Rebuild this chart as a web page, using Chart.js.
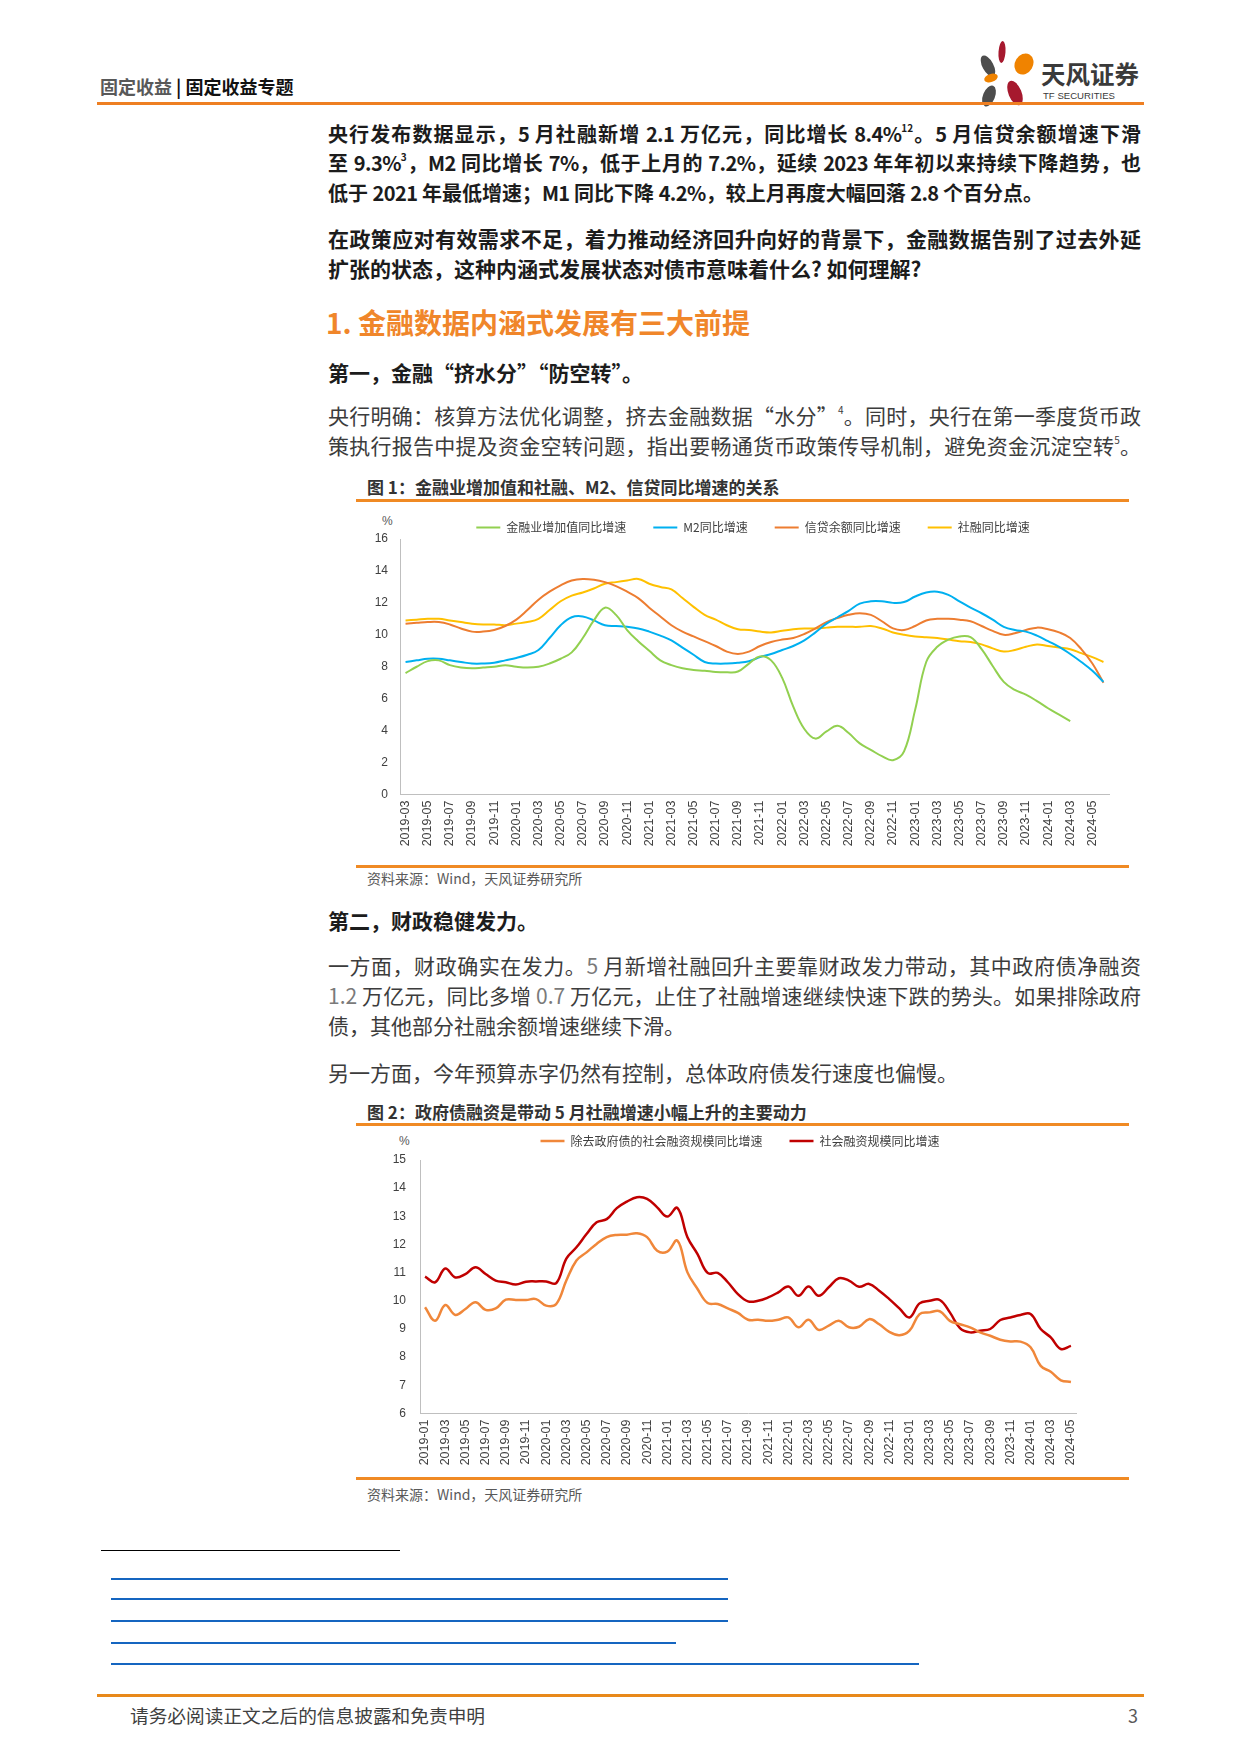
<!DOCTYPE html>
<html lang="zh-CN">
<head>
<meta charset="utf-8">
<script src="https://cdn.jsdelivr.net/npm/chart.js@4.4.1/dist/chart.umd.min.js"></script>
<style>
  html, body { margin:0; padding:0; background:#fff; }
  body { width:1241px; height:1755px; position:relative; overflow:hidden;
         font-family:"Noto Sans CJK SC","Noto Sans",sans-serif; }
  .abs { position:absolute; white-space:nowrap; }
  .ln { position:absolute; left:328px; width:813px; height:30px; line-height:30px; font-size:21px; }
  .p1 { font-size:20px; }
  .j { text-align:justify; text-align-last:justify; }
  .b { font-weight:bold; color:#1c1c1c; }
  .n { font-weight:normal; color:#3c3c3c; }
  sup { font-size:10px; line-height:0; position:relative; top:-2px; vertical-align:super; }
  .lat { color:#7a7a7a; }
  .nar { letter-spacing:-0.6px; }
  .figt { position:absolute; left:367px; font-size:17px; font-weight:bold; color:#333; line-height:20px; height:20px; }
  .src { position:absolute; left:367px; font-size:14px; color:#595959; line-height:18px; height:18px; }
  .oline { position:absolute; background:#F08A24; }
  .blue { position:absolute; height:2px; background:#1565C0; }
  .pct { position:absolute; font-size:12px; color:#595959; font-family:"Liberation Sans",Arial,sans-serif; line-height:14px; }
</style>
</head>
<body>
<!-- header -->
<div class="abs" style="left:100px;top:74px;font-size:18px;font-weight:bold;line-height:24px;">
  <span style="color:#595959">固定收益</span><span style="color:#111"> | 固定收益专题</span>
</div>
<svg class="abs" style="left:970px;top:36px;" width="180" height="76" viewBox="970 36 180 76">
  <ellipse cx="1002" cy="52" rx="3.5" ry="11" fill="#A6192E" transform="rotate(4 1002 52)"/>
  <ellipse cx="988" cy="66" rx="5.5" ry="11.5" fill="#4D4D4D" transform="rotate(-28 988 66)"/>
  <ellipse cx="1024" cy="64" rx="9" ry="11" fill="#F08300" transform="rotate(30 1024 64)"/>
  <ellipse cx="991" cy="78" rx="7" ry="4" fill="#F08300" transform="rotate(-18 991 78)"/>
  <ellipse cx="1015" cy="93" rx="6.5" ry="13" fill="#A6192E" transform="rotate(-22 1015 93)"/>
  <ellipse cx="989" cy="96" rx="6" ry="11" fill="#4D4D4D" transform="rotate(22 989 96)"/>
  <text x="1041" y="84" font-size="24.5" font-weight="bold" fill="#3a3a3a" font-family="Noto Sans CJK SC">天风证券</text>
  <text x="1043" y="99" font-size="9.6" fill="#3a3a3a" font-family="Liberation Sans, Arial">TF SECURITIES</text>
</svg>
<div class="oline" style="left:97px;top:102px;width:1047px;height:3px;background:#EE7F22;"></div>

<!-- paragraph 1 -->
<div class="ln p1 j b" style="top:119px;">央行发布数据显示，<span class="nar">5</span> 月社融新增 <span class="nar">2.1</span> 万亿元，同比增长 <span class="nar">8.4%</span><sup>12</sup>。<span class="nar">5</span> 月信贷余额增速下滑</div>
<div class="ln p1 j b" style="top:148px;">至 <span class="nar">9.3%</span><sup>3</sup>，<span class="nar">M2</span> 同比增长 <span class="nar">7%</span>，低于上月的 <span class="nar">7.2%</span>，延续 <span class="nar">2023</span> 年年初以来持续下降趋势，也</div>
<div class="ln p1 b" style="top:178px;">低于 <span class="nar">2021</span> 年最低增速；<span class="nar">M1</span> 同比下降 <span class="nar">4.2%</span>，较上月再度大幅回落 <span class="nar">2.8</span> 个百分点。</div>

<div class="ln j b" style="top:223px;">在政策应对有效需求不足，着力推动经济回升向好的背景下，金融数据告别了过去外延</div>
<div class="ln b" style="top:253px;">扩张的状态，这种内涵式发展状态对债市意味着什么? 如何理解?</div>

<div class="abs" style="left:326px;top:303px;font-size:28px;line-height:38px;font-weight:bold;color:#F0862A;">1. 金融数据内涵式发展有三大前提</div>

<div class="ln b" style="top:357px;">第一，金融“挤水分”“防空转”。</div>

<div class="ln j n" style="top:400px;">央行明确：核算方法优化调整，挤去金融数据“水分”<sup>4</sup>。同时，央行在第一季度货币政</div>
<div class="ln j n" style="top:430px;">策执行报告中提及资金空转问题，指出要畅通货币政策传导机制，避免资金沉淀空转<sup>5</sup>。</div>

<!-- figure 1 -->
<div class="figt" style="top:477px;">图 1：金融业增加值和社融、M2、信贷同比增速的关系</div>
<div class="oline" style="left:356px;top:499px;width:773px;height:2.5px;"></div>
<div class="pct" style="left:382px;top:514px;">%</div>
<div class="abs" style="left:330px;top:489.5px;width:800px;height:375px;">
  <canvas id="c1" width="800" height="375"></canvas>
</div>
<div class="oline" style="left:356px;top:865px;width:773px;height:3px;"></div>
<div class="src" style="top:869px;">资料来源：Wind，天风证券研究所</div>

<div class="ln b" style="top:905px;">第二，财政稳健发力。</div>
<div class="ln j n" style="top:950px;">一方面，财政确实在发力。<span class="lat">5</span> 月新增社融回升主要靠财政发力带动，其中政府债净融资</div>
<div class="ln j n" style="top:980px;"><span class="lat">1.2</span> 万亿元，同比多增 <span class="lat">0.7</span> 万亿元，止住了社融增速继续快速下跌的势头。如果排除政府</div>
<div class="ln n" style="top:1010px;">债，其他部分社融余额增速继续下滑。</div>
<div class="ln n" style="top:1057px;">另一方面，今年预算赤字仍然有控制，总体政府债发行速度也偏慢。</div>

<!-- figure 2 -->
<div class="figt" style="top:1102px;">图 2：政府债融资是带动 5 月社融增速小幅上升的主要动力</div>
<div class="oline" style="left:356px;top:1123px;width:773px;height:2.5px;"></div>
<div class="pct" style="left:399px;top:1134px;">%</div>
<div class="abs" style="left:340px;top:1111px;width:760px;height:364px;">
  <canvas id="c2" width="760" height="364"></canvas>
</div>
<div class="oline" style="left:356px;top:1477px;width:773px;height:3px;"></div>
<div class="src" style="top:1485px;">资料来源：Wind，天风证券研究所</div>

<!-- footnotes -->
<div class="abs" style="left:101px;top:1550px;width:299px;height:1px;background:#000;"></div>
<div class="blue" style="left:111px;top:1578px;width:617px;"></div>
<div class="blue" style="left:111px;top:1598px;width:617px;"></div>
<div class="blue" style="left:111px;top:1620px;width:617px;"></div>
<div class="blue" style="left:111px;top:1642px;width:565px;"></div>
<div class="blue" style="left:111px;top:1663px;width:808px;"></div>

<!-- footer -->
<div class="oline" style="left:97px;top:1694px;width:1047px;height:3px;background:#E8891A;"></div>
<div class="abs" style="left:130px;top:1702px;font-size:18.7px;line-height:26px;color:#404040;">请务必阅读正文之后的信息披露和免责申明</div>
<div class="abs" style="left:1128px;top:1702px;font-size:18px;line-height:26px;color:#595959;">3</div>

<script>
// ---------- Figure 1 data ----------
const months1 = ["2019-03","2019-04","2019-05","2019-06","2019-07","2019-08","2019-09","2019-10","2019-11","2019-12",
 "2020-01","2020-02","2020-03","2020-04","2020-05","2020-06","2020-07","2020-08","2020-09","2020-10","2020-11","2020-12",
 "2021-01","2021-02","2021-03","2021-04","2021-05","2021-06","2021-07","2021-08","2021-09","2021-10","2021-11","2021-12",
 "2022-01","2022-02","2022-03","2022-04","2022-05","2022-06","2022-07","2022-08","2022-09","2022-10","2022-11","2022-12",
 "2023-01","2023-02","2023-03","2023-04","2023-05","2023-06","2023-07","2023-08","2023-09","2023-10","2023-11","2023-12",
 "2024-01","2024-02","2024-03","2024-04","2024-05","2024-06"];
const finVA = [7.6,8.0,8.35,8.4,8.1,7.95,7.9,7.95,8.0,8.1,8.0,7.95,8.0,8.2,8.5,8.9,9.8,10.9,11.7,11.25,10.3,9.6,9.0,8.4,
 8.1,7.9,7.8,7.75,7.67,7.65,7.7,8.2,8.65,8.4,7.3,5.5,4.1,3.5,3.95,4.3,3.85,3.2,2.8,2.4,2.15,2.7,5.3,8.3,9.25,9.7,9.9,
 9.85,9.1,8.05,7.05,6.55,6.25,5.85,5.4,5.0,4.6];
const m2 = [8.3,8.4,8.5,8.5,8.4,8.3,8.2,8.2,8.25,8.4,8.55,8.75,9.05,9.8,10.6,11.1,11.15,10.9,10.6,10.55,10.5,10.4,10.2,9.95,
 9.65,9.2,8.75,8.3,8.2,8.2,8.25,8.35,8.6,8.8,9.05,9.3,9.65,10.15,10.7,11.1,11.5,11.95,12.1,12.1,12.0,12.05,12.4,12.65,12.7,
 12.5,12.1,11.7,11.35,10.95,10.5,10.3,10.2,9.95,9.6,9.25,8.8,8.3,7.75,7.05];
const loans = [10.7,10.75,10.8,10.8,10.65,10.4,10.2,10.2,10.3,10.55,10.95,11.55,12.2,12.7,13.1,13.4,13.5,13.45,13.3,13.05,
 12.7,12.3,11.7,11.15,10.6,10.2,9.9,9.6,9.3,8.95,8.8,8.95,9.3,9.55,9.7,9.8,10.05,10.4,10.8,11.05,11.25,11.35,11.25,10.85,
 10.4,10.3,10.55,10.9,11.0,11.0,10.95,10.85,10.55,10.25,10.0,10.1,10.3,10.45,10.35,10.15,9.8,9.1,8.2,7.0];
const tsf = [10.9,10.95,11.0,11.0,10.9,10.8,10.7,10.65,10.65,10.6,10.7,10.8,11.0,11.55,12.1,12.45,12.65,12.9,13.2,13.3,13.4,
 13.5,13.2,13.0,12.85,12.3,11.75,11.25,10.95,10.6,10.35,10.3,10.2,10.15,10.25,10.35,10.4,10.4,10.45,10.5,10.5,10.5,10.55,
 10.4,10.15,10.0,9.9,9.85,9.8,9.7,9.6,9.55,9.4,9.15,8.95,9.05,9.25,9.4,9.3,9.2,9.1,8.85,8.6,8.3];
const names1 = ["金融业增加值同比增速","M2同比增速","信贷余额同比增速","社融同比增速"];
const yTicks1 = {min:0, max:16, step:2};

// ---------- Figure 2 data ----------
const months2 = ["2019-01","2019-02","2019-03","2019-04","2019-05","2019-06","2019-07","2019-08","2019-09","2019-10","2019-11","2019-12",
 "2020-01","2020-02","2020-03","2020-04","2020-05","2020-06","2020-07","2020-08","2020-09","2020-10","2020-11","2020-12",
 "2021-01","2021-02","2021-03","2021-04","2021-05","2021-06","2021-07","2021-08","2021-09","2021-10","2021-11","2021-12",
 "2022-01","2022-02","2022-03","2022-04","2022-05","2022-06","2022-07","2022-08","2022-09","2022-10","2022-11","2022-12",
 "2023-01","2023-02","2023-03","2023-04","2023-05","2023-06","2023-07","2023-08","2023-09","2023-10","2023-11","2023-12",
 "2024-01","2024-02","2024-03","2024-04","2024-05"];
const tsfExGov = [9.77,9.29,9.85,9.5,9.71,9.95,9.68,9.73,10.04,10.03,10.03,10.06,9.83,9.89,10.72,11.43,11.72,12.02,12.26,12.34,
 12.35,12.4,12.26,11.78,11.75,12.14,11.01,10.42,9.92,9.89,9.73,9.57,9.33,9.33,9.29,9.33,9.41,9.06,9.33,8.97,9.12,9.29,9.06,
 9.08,9.35,9.17,8.9,8.78,8.94,9.53,9.59,9.63,9.29,9.17,9.06,8.88,8.76,8.62,8.56,8.55,8.35,7.69,7.48,7.18,7.12];
const tsfAll = [10.86,10.66,11.15,10.83,10.95,11.19,10.95,10.72,10.66,10.58,10.68,10.69,10.69,10.63,11.5,11.9,12.37,12.79,12.9,
 13.29,13.52,13.68,13.62,13.32,12.99,13.3,12.26,11.66,10.99,10.99,10.66,10.24,9.98,10.0,10.12,10.3,10.51,10.18,10.51,10.18,
 10.48,10.8,10.72,10.5,10.6,10.36,10.06,9.73,9.41,9.91,10.0,10.03,9.59,9.03,8.88,8.94,9.0,9.32,9.41,9.5,9.53,9.0,8.7,8.29,8.4];
const names2 = ["除去政府债的社会融资规模同比增速","社会融资规模同比增速"];
const yTicks2 = {min:6, max:15, step:1};

// ---------- shared ----------
const NUM_FONT = "'Liberation Sans', Arial, sans-serif";
const CJK_FONT = "'Noto Sans CJK SC', 'Noto Sans', sans-serif";
Chart.defaults.font.family = NUM_FONT;
Chart.defaults.color = '#595959';

const legendShift = {
  id: 'legendShift',
  afterLayout(chart, args, opts) {
    const lg = chart.legend; if (!lg) return;
    const ca = chart.chartArea;
    const dx = (ca.left + ca.right) / 2 - (lg.left + lg.right) / 2 + (opts.dx || 0);
    const dy = opts.dy || 0;
    lg.left += dx; lg.right += dx; lg.top += dy; lg.bottom += dy;
  }
};

function makeOptions(yt, yW, xH, padR, yPad, shift) {
  return {
    responsive: false, animation: false, devicePixelRatio: 1,
    layout: { padding: { left: 0, right: padR, top: 0, bottom: 0 } },
    elements: { point: { radius: 0, hoverRadius: 0 } },
    plugins: {
      tooltip: { enabled: false },
      legendShift: shift,
      legend: {
        position: 'top',
        labels: {
          usePointStyle: true, pointStyle: 'line', pointStyleWidth: 24,
          padding: 27, color: '#404040',
          font: { family: CJK_FONT, size: 12 }
        }
      }
    },
    scales: {
      x: {
        type: 'category', offset: true,
        grid: { display: false, drawTicks: false },
        border: { display: true, color: '#BFBFBF', width: 1 },
        ticks: {
          autoSkip: false, minRotation: 90, maxRotation: 90, padding: 6,
          color: '#404040', font: { size: 12.5, family: NUM_FONT },
          callback: function (v, i) { return i % 2 === 0 ? this.getLabelForValue(v) : ''; }
        },
        afterFit: (s) => { s.height = xH; }
      },
      y: {
        min: yt.min, max: yt.max,
        grid: { display: false, drawTicks: false },
        border: { display: true, color: '#BFBFBF', width: 1 },
        ticks: { stepSize: yt.step, padding: yPad, color: '#404040', font: { size: 12, family: NUM_FONT } },
        afterFit: (s) => { s.width = yW; }
      }
    }
  };
}

function ds(label, data, color, w) {
  return { label, data, borderColor: color, backgroundColor: color, borderWidth: w,
           tension: 0.4, pointRadius: 0, fill: false, spanGaps: false };
}

new Chart(document.getElementById('c1'), {
  type: 'line',
  data: {
    labels: months1,
    datasets: [
      ds(names1[0], finVA, '#92D050', 2),
      ds(names1[1], m2, '#00B0F0', 2),
      ds(names1[2], loans, '#ED7D31', 2),
      ds(names1[3], tsf, '#FFC000', 2)
    ]
  },
  options: makeOptions(yTicks1, 70, 70.5, 21, 12, { dx: -1.5, dy: 4.5 }),
  plugins: [legendShift]
});

new Chart(document.getElementById('c2'), {
  type: 'line',
  data: {
    labels: months2,
    datasets: [
      ds(names2[0], tsfExGov, '#F0873A', 2.5),
      ds(names2[1], tsfAll, '#C00000', 2.5)
    ]
  },
  options: makeOptions(yTicks2, 80, 61.5, 24, 14, { dx: -8, dy: -3 }),
  plugins: [legendShift]
});
</script>
</body>
</html>
